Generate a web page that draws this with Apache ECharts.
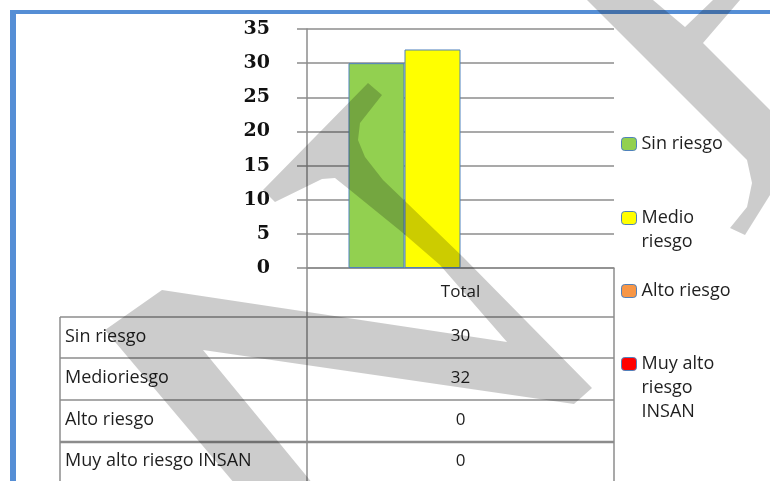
<!DOCTYPE html>
<html lang="es">
<head>
<meta charset="UTF-8">
<title>Riesgo</title>
<style>
html, body { margin: 0; padding: 0; background: #fff; }
#main { width: 770px; height: 481px; }
</style>
</head>
<body>
<div id="main"></div>
<script src="https://cdn.jsdelivr.net/npm/echarts@6/dist/echarts.min.js"></script>
<script>
// datos
var categories = ['Total'];
var seriesNames = ['Sin riesgo', 'Medio riesgo', 'Alto riesgo', 'Muy alto riesgo INSAN'];
var seriesValues = [30, 32, 0, 0];
var tableLabels = ['Sin riesgo', 'Medioriesgo', 'Alto riesgo', 'Muy alto riesgo INSAN'];
var legendLabels = ['Sin riesgo', 'Medio\nriesgo', 'Alto riesgo', 'Muy alto\nriesgo\nINSAN'];
var yMax = 35, yStep = 5;

var colors = ['#92D050', '#FFFF00', '#F79646', '#FF0000'];
var lineGrey = '#8c8c8c';
var txtFont = '"Open Sans", "Noto Sans", sans-serif';

var chart = echarts.init(document.getElementById('main'));

// leyenda: una por serie para ubicar cada entrada
// (lineas vacias delante para que el icono quede a la altura de la primera linea)
var legendCenters = [144, 218, 291, 364];
var legends = seriesNames.map(function (name, i) {
	var n = legendLabels[i].split('\n').length;
	var pad = new Array(n).join('\n');
	var h = (2 * n - 1) * 24;
	return {
		data: [{ name: name, itemStyle: { borderColor: '#4F81BD', borderWidth: 1 } }],
		left: 621,
		top: legendCenters[i] - h / 2,
		padding: 0,
		itemWidth: 15,
		itemHeight: 13,
		formatter: function () { return pad + legendLabels[i]; },
		textStyle: {
			color: '#1f1f1f',
			fontFamily: txtFont,
			fontSize: 18,
			lineHeight: 24
		}
	};
});

// tabla de datos
var tableLeft = 60, axisX = 307, tableRight = 614;
var headTop = 268, rowLines = [317, 358, 400, 442], tableBottom = 490;
var g = [];
function hline(y, x1, x2, w) {
	g.push({ type: 'line', z: 5, shape: { x1: x1, y1: y, x2: x2, y2: y }, style: { stroke: lineGrey, lineWidth: w || 1.5 } });
}
function vline(x, y1, y2) {
	g.push({ type: 'line', z: 5, shape: { x1: x, y1: y1, x2: x, y2: y2 }, style: { stroke: lineGrey, lineWidth: 1.5 } });
}
vline(axisX, headTop, tableBottom);
vline(tableRight, headTop, tableBottom);
vline(tableLeft, rowLines[0], tableBottom);
rowLines.forEach(function (y, i) { hline(y, tableLeft, tableRight, i === 3 ? 2.5 : 1.5); });
g.push({ type: 'text', z: 6, style: { text: categories[0], x: (axisX + tableRight) / 2, y: (headTop + rowLines[0]) / 2,
	textAlign: 'center', textVerticalAlign: 'middle', fill: '#1f1f1f', font: '17px ' + txtFont } });
var rowEdges = rowLines.concat([482]);
tableLabels.forEach(function (lab, i) {
	var cy = (rowEdges[i] + rowEdges[i + 1]) / 2 - 1;
	g.push({ type: 'text', z: 6, style: { text: lab, x: tableLeft + 5, y: cy, textAlign: 'left', textVerticalAlign: 'middle',
		fill: '#1f1f1f', font: '18px ' + txtFont } });
	g.push({ type: 'text', z: 6, style: { text: String(seriesValues[i]), x: (axisX + tableRight) / 2, y: cy,
		textAlign: 'center', textVerticalAlign: 'middle', fill: '#1f1f1f', font: '17px ' + txtFont } });
});

// marco azul
g.push({ type: 'rect', z: 8, shape: { x: 10, y: 10, width: 6, height: 475 }, style: { fill: '#558ED5' } });
g.push({ type: 'rect', z: 8, shape: { x: 10, y: 10, width: 770, height: 4 }, style: { fill: '#558ED5' } });

// marca de agua
var wmFill = 'rgba(0,0,0,0.2)';
g.push({ type: 'polygon', z: 50, silent: true, shape: { points: [
	[263, 190], [368, 83], [382, 95], [360, 123], [358, 140], [365, 157], [383, 180], [407, 203],
	[463, 257], [592, 388], [574, 404], [203, 350], [318, 490], [240, 490], [105, 330], [162, 290],
	[507, 342], [440, 265], [403, 233], [350, 190], [335, 178], [322, 179], [275, 202]
] }, style: { fill: wmFill } });
g.push({ type: 'polygon', z: 50, silent: true, shape: { points: [
	[587, 0], [653, 0], [685, 27], [713, 0], [740, 0], [703, 43], [780, 120], [795, 160],
	[785, 185], [770, 195], [745, 235], [730, 228], [747, 207], [752, 183], [747, 160], [730, 143]
] }, style: { fill: wmFill } });

chart.setOption({
	animation: false,
	backgroundColor: '#fff',
	legend: legends,
	grid: { left: axisX, top: 29, width: tableRight - axisX, height: headTop - 29 },
	xAxis: {
		type: 'category',
		data: categories,
		axisLine: { show: true, lineStyle: { color: lineGrey, width: 1.5 } },
		axisTick: { show: false },
		axisLabel: { show: false }
	},
	yAxis: {
		type: 'value',
		min: 0,
		max: yMax,
		interval: yStep,
		axisLine: { show: true, lineStyle: { color: lineGrey, width: 1.5 } },
		axisTick: { show: true, length: 10, lineStyle: { color: lineGrey, width: 1.5 } },
		splitLine: { lineStyle: { color: lineGrey, width: 1.5 } },
		axisLabel: {
			margin: 37,
			color: '#111',
			fontFamily: '"DejaVu Serif", "Liberation Serif", serif',
			fontWeight: 'bold',
			fontSize: 19
		}
	},
	series: seriesNames.map(function (name, i) {
		return {
			name: name,
			type: 'bar',
			barWidth: 56,
			barGap: '0%',
			data: [seriesValues[i]],
			itemStyle: { color: colors[i], borderColor: '#4F81BD', borderWidth: seriesValues[i] ? 1 : 0 }
		};
	}),
	graphic: g
});
</script>
</body>
</html>
